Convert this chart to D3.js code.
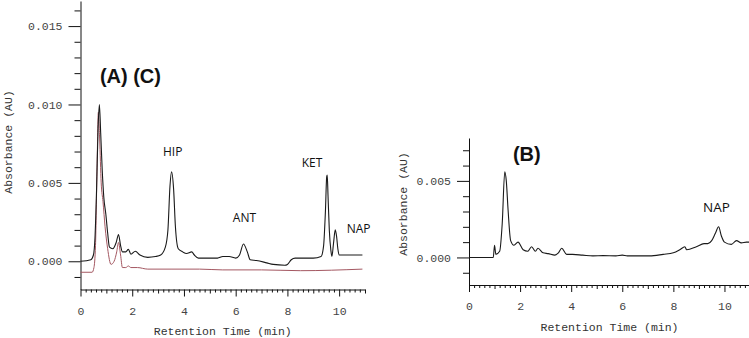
<!DOCTYPE html>
<html>
<head>
<meta charset="utf-8">
<script src="https://cdn.jsdelivr.net/npm/d3@7"></script>
<style>
  body{margin:0;background:#fff;}
  svg{display:block;}
</style>
</head>
<body>
<div id="chart"></div>
<script>
// trace (A) - black, left panel
const timeA=[0,0.4,0.5,0.56,0.62,0.68,0.73,0.78,0.84,0.9,0.98,1.05,1.12,1.25,1.38,1.47,1.55,1.62,1.75,1.85,1.95,2.12,2.3,2.6,2.9,3.1,3.28,3.38,3.46,3.52,3.6,3.67,3.78,3.95,4.1,4.3,4.4,4.56,5.0,5.3,5.5,5.75,6.0,6.15,6.3,6.45,6.56,6.8,7.2,7.45,7.9,8.0,8.15,8.3,9.0,9.3,9.4,9.47,9.52,9.54,9.57,9.62,9.68,9.72,9.78,9.85,9.9,9.95,10.0,10.2,10.9];
const absA=[0.0000,0.0001,0.0004,0.0015,0.0045,0.0085,0.0100,0.0082,0.0058,0.0041,0.0030,0.0018,0.0009,0.0008,0.0012,0.0017,0.0010,0.0006,0.0006,0.00076,0.00045,0.00064,0.0004,0.00025,0.0003,0.0004,0.0009,0.0020,0.0048,0.0057,0.0046,0.0022,0.0008,0.0006,0.0005,0.0006,0.0004,0.0002,0.0002,0.0002,0.0003,0.0003,0.0002,0.0004,0.0011,0.0006,0.0001,0.00005,-0.0001,-0.0002,-0.00025,-0.0002,0.0001,0.0002,0.0002,0.0003,0.0010,0.0032,0.0054,0.0055,0.0042,0.0020,0.0007,0.0003,0.0011,0.0020,0.0016,0.0008,0.0004,0.0004,0.0004];
// trace (C) - red, left panel
const timeC=[0,0.45,0.52,0.58,0.64,0.69,0.74,0.8,0.87,0.95,1.05,1.18,1.3,1.4,1.47,1.55,1.62,1.75,1.85,1.95,2.2,2.6,3.5,4.6,5.5,7.0,8.5,10.9];
const absC=[-0.0007,-0.0007,-0.0004,0.0010,0.0060,0.0095,0.0078,0.0050,0.0038,0.0022,0.0008,-0.0002,0.0000,0.0006,0.0012,0.0004,-0.0004,-0.0004,-0.0003,-0.0004,-0.0004,-0.0005,-0.0005,-0.0005,-0.00055,-0.00055,-0.0006,-0.0005];
// trace (B) - black, right panel
const timeB=[0,0.95,1.0,1.05,1.2,1.3,1.4,1.46,1.53,1.63,1.76,1.92,2.12,2.3,2.45,2.6,2.7,2.9,3.1,3.36,3.5,3.63,3.82,4.05,4.45,4.85,5.25,5.75,6.0,6.2,7.07,7.6,8.0,8.25,8.45,8.52,8.9,9.2,9.35,9.5,9.65,9.77,9.88,10.0,10.27,10.47,10.66,10.86,11];
const absB=[0,0,0.0008,0.0002,0.0004,0.0022,0.0056,0.0050,0.0031,0.0011,0.0008,0.0010,0.0005,0.0004,0.0007,0.0004,0.0006,0.0003,0.00025,0.00015,0.0003,0.0006,0.0002,0.0002,0.00015,0.0001,0.00012,0.0001,0.00015,0.0001,0.0001,0.0002,0.0003,0.0005,0.0007,0.0005,0.0007,0.0009,0.0009,0.0011,0.0016,0.0020,0.0014,0.0010,0.00085,0.0011,0.00095,0.0010,0.0010];

const xTicks=[0,2,4,6,8,10];
const yTicksLeft=[0,0.005,0.010,0.015];
const yTicksRight=[0,0.005];

const labelsLeft=[{text:"(A) (C)",t:0.75,v:0.0114,big:true},{text:"HIP",t:3.19,v:0.0067},{text:"ANT",t:5.89,v:0.0025},{text:"KET",t:8.55,v:0.0060},{text:"NAP",t:10.29,v:0.0018}];
const labelsRight=[{text:"(B)",t:1.72,v:0.0063,big:true},{text:"NAP",t:9.16,v:0.0030,size:13.5}];

const W=749,H=338,mono="'Liberation Mono','DejaVu Sans Mono',monospace";
const svg=d3.select("#chart").append("svg").attr("width",W).attr("height",H);
svg.append("rect").attr("width",W).attr("height",H).attr("fill","#fff");

function panel(o){
  const x=d3.scaleLinear().domain([0,11]).range(o.xr);
  const y=d3.scaleLinear().domain(o.yd).range(o.yr);
  const g=svg.append("g");
  // minor y ticks every 0.001
  const minorY=d3.range(-1,Math.floor(o.yd[1]*1000)+1).map(d=>d/1000).filter(d=>!o.yTicks.some(t=>Math.abs(t-d)<1e-9));
  g.append("g").attr("transform",`translate(${o.xr[0]},0)`)
    .call(d3.axisLeft(y).tickValues(minorY).tickSize(6).tickFormat(""))
    .call(s=>s.select(".domain").remove());
  g.append("g").attr("transform",`translate(${o.xr[0]},0)`)
    .call(d3.axisLeft(y).tickValues(o.yTicks).tickSize(12).tickSizeOuter(0).tickPadding(6).tickFormat(d3.format(".3f")))
    .call(s=>s.selectAll("text").attr("font-family",mono).attr("font-size",11.5).attr("fill","#444"));
  // x minor ticks every 0.2 min, medium at odd minutes
  const minorX=d3.range(1,56).map(d=>d/5).filter(d=>Math.abs(d-Math.round(d))>1e-6);
  const oddX=[1,3,5,7,9,11];
  g.append("g").attr("transform",`translate(0,${o.yr[0]})`)
    .call(d3.axisBottom(x).tickValues(minorX).tickSize(3).tickFormat(""))
    .call(s=>s.select(".domain").remove());
  g.append("g").attr("transform",`translate(0,${o.yr[0]})`)
    .call(d3.axisBottom(x).tickValues(oddX).tickSize(4).tickFormat(""))
    .call(s=>s.select(".domain").remove());
  g.append("g").attr("transform",`translate(0,${o.yr[0]})`)
    .call(d3.axisBottom(x).tickValues(xTicks).tickSize(7).tickSizeOuter(0).tickPadding(10).tickFormat(d3.format("d")))
    .call(s=>s.selectAll("text").attr("font-family",mono).attr("font-size",11.5).attr("fill","#444"));
  g.selectAll("path.domain,line").attr("stroke","#111");
  // axis titles
  g.append("text").attr("x",(o.xr[0]+o.xr[1])/2).attr("y",o.yr[0]+45.5).attr("text-anchor","middle")
    .attr("font-family",mono).attr("font-size",11.5).attr("fill","#333").text("Retention Time (min)");
  g.append("text").attr("transform",`translate(${o.ytX},${o.ytY}) rotate(-90)`).attr("text-anchor","middle")
    .attr("font-family",mono).attr("font-size",11.5).attr("fill","#333").text("Absorbance (AU)");
  // traces
  const line=d3.line().x(d=>x(d[0])).y(d=>y(d[1])).curve(d3.curveMonotoneX);
  o.series.forEach(s=>{
    g.append("path").datum(d3.zip(s.t,s.v)).attr("d",line).attr("fill","none")
      .attr("stroke",s.color).attr("stroke-width",s.w).attr("stroke-linejoin","round");
  });
  // peak labels
  g.selectAll(".lbl").data(o.labels).join("text")
    .attr("x",d=>x(d.t)).attr("y",d=>y(d.v))
    .attr("font-family",d=>d.big?"'Liberation Sans',Arial,sans-serif":"'Open Sans',sans-serif")
    .attr("font-weight",d=>d.big?700:400).attr("font-size",d=>d.big?20:(d.size||12))
    .attr("fill","#111").text(d=>d.text);
}

panel({xr:[80.5,365],yd:[-0.0018,0.0166],yr:[289.5,1],yTicks:yTicksLeft,ytX:12,ytY:142,
  series:[{t:timeC,v:absC,color:"#a45862",w:1},{t:timeA,v:absA,color:"#1a1a1a",w:1.1}],labels:labelsLeft});
panel({xr:[469,750],yd:[-0.0018,0.0078],yr:[285,138],yTicks:yTicksRight,ytX:407,ytY:204,
  series:[{t:timeB,v:absB,color:"#1a1a1a",w:1.1}],labels:labelsRight});
</script>
</body>
</html>
